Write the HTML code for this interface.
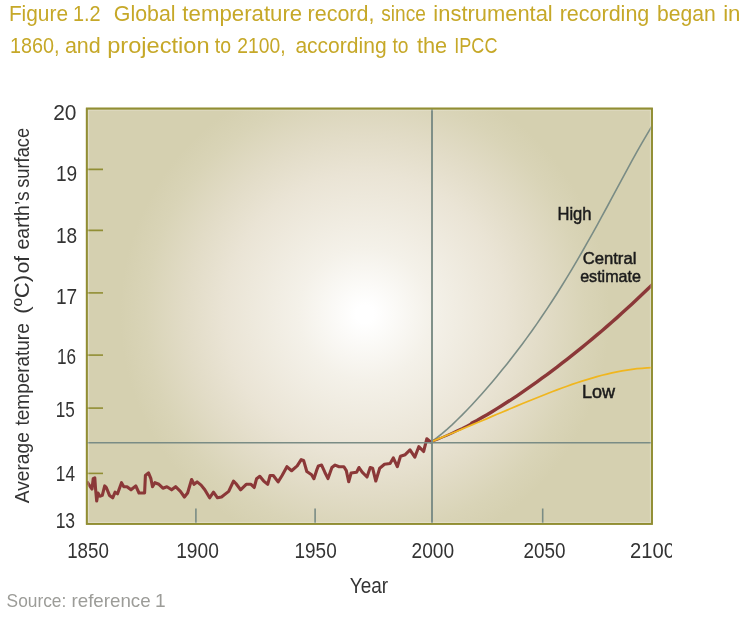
<!DOCTYPE html>
<html><head><meta charset="utf-8"><title>Figure 1.2</title>
<style>
html,body{margin:0;padding:0;background:#fff;}
body{width:753px;height:620px;overflow:hidden;}
svg{display:block;will-change:transform;}
text{font-family:"Liberation Sans",sans-serif;}
</style></head><body>
<svg width="753" height="620" viewBox="0 0 753 620">
<defs>
<radialGradient id="bg" gradientUnits="userSpaceOnUse" cx="365" cy="314" r="255">
<stop offset="0" stop-color="#ffffff"/>
<stop offset="0.035" stop-color="#ffffff"/>
<stop offset="0.26" stop-color="rgb(244,241,233)"/>
<stop offset="0.55" stop-color="rgb(234,228,213)"/>
<stop offset="0.70" stop-color="rgb(226,220,199)"/>
<stop offset="0.86" stop-color="rgb(217,212,183)"/>
<stop offset="0.96" stop-color="rgb(213,208,176)"/>
<stop offset="1" stop-color="rgb(213,208,176)"/>
</radialGradient>
<clipPath id="plot"><rect x="87" y="108.5" width="565" height="415.5"/></clipPath>
<clipPath id="xl"><rect x="0" y="530" width="672" height="40"/></clipPath>
</defs>
<rect x="0" y="0" width="753" height="620" fill="#ffffff"/>

<text x="8.88" y="21.3" font-size="21.5" fill="#c6a828" textLength="59.15" lengthAdjust="spacingAndGlyphs">Figure</text>
<text x="72.97" y="21.3" font-size="21.5" fill="#c6a828" textLength="27.68" lengthAdjust="spacingAndGlyphs">1.2</text>
<text x="113.77" y="21.3" font-size="21.5" fill="#c6a828" textLength="61.75" lengthAdjust="spacingAndGlyphs">Global</text>
<text x="182.39" y="21.3" font-size="21.5" fill="#c6a828" textLength="119.82" lengthAdjust="spacingAndGlyphs">temperature</text>
<text x="307.56" y="21.3" font-size="21.5" fill="#c6a828" textLength="66.88" lengthAdjust="spacingAndGlyphs">record,</text>
<text x="381.27" y="21.3" font-size="21.5" fill="#c6a828" textLength="44.51" lengthAdjust="spacingAndGlyphs">since</text>
<text x="433.38" y="21.3" font-size="21.5" fill="#c6a828" textLength="119.34" lengthAdjust="spacingAndGlyphs">instrumental</text>
<text x="559.65" y="21.3" font-size="21.5" fill="#c6a828" textLength="89.69" lengthAdjust="spacingAndGlyphs">recording</text>
<text x="657.07" y="21.3" font-size="21.5" fill="#c6a828" textLength="58.73" lengthAdjust="spacingAndGlyphs">began</text>
<text x="723.15" y="21.3" font-size="21.5" fill="#c6a828" textLength="17.34" lengthAdjust="spacingAndGlyphs">in</text>
<text x="9.92" y="52.6" font-size="21.5" fill="#c6a828" textLength="49.48" lengthAdjust="spacingAndGlyphs">1860,</text>
<text x="64.89" y="52.6" font-size="21.5" fill="#c6a828" textLength="35.84" lengthAdjust="spacingAndGlyphs">and</text>
<text x="107.18" y="52.6" font-size="21.5" fill="#c6a828" textLength="102.46" lengthAdjust="spacingAndGlyphs">projection</text>
<text x="214.83" y="52.6" font-size="21.5" fill="#c6a828" textLength="16.25" lengthAdjust="spacingAndGlyphs">to</text>
<text x="237.37" y="52.6" font-size="21.5" fill="#c6a828" textLength="48.17" lengthAdjust="spacingAndGlyphs">2100,</text>
<text x="295.40" y="52.6" font-size="21.5" fill="#c6a828" textLength="91.21" lengthAdjust="spacingAndGlyphs">according</text>
<text x="392.51" y="52.6" font-size="21.5" fill="#c6a828" textLength="16.02" lengthAdjust="spacingAndGlyphs">to</text>
<text x="416.91" y="52.6" font-size="21.5" fill="#c6a828" textLength="30.21" lengthAdjust="spacingAndGlyphs">the</text>
<text x="454.24" y="52.6" font-size="21.5" fill="#c6a828" textLength="43.23" lengthAdjust="spacingAndGlyphs">IPCC</text>
<rect x="86.75" y="108.55" width="565.25" height="415.35" fill="url(#bg)" stroke="#918e34" stroke-width="1.7"/>
<g clip-path="url(#plot)">
<line x1="195.9" y1="508.5" x2="195.9" y2="524" stroke="#7a8c85" stroke-width="1.6"/>
<line x1="315.1" y1="508.5" x2="315.1" y2="524" stroke="#7a8c85" stroke-width="1.6"/>
<line x1="542.7" y1="508.5" x2="542.7" y2="524" stroke="#7a8c85" stroke-width="1.6"/>
<line x1="87" y1="169.4" x2="103" y2="169.4" stroke="#918e34" stroke-width="1.6"/>
<line x1="87" y1="230.4" x2="103" y2="230.4" stroke="#918e34" stroke-width="1.6"/>
<line x1="87" y1="292.9" x2="103" y2="292.9" stroke="#918e34" stroke-width="1.6"/>
<line x1="87" y1="355.1" x2="103" y2="355.1" stroke="#918e34" stroke-width="1.6"/>
<line x1="87" y1="408.1" x2="103" y2="408.1" stroke="#918e34" stroke-width="1.6"/>
<line x1="87" y1="473.4" x2="103" y2="473.4" stroke="#918e34" stroke-width="1.6"/>
<polyline points="432.0,441.5 437.0,437.7 442.0,433.6 447.0,429.3 452.0,424.8 457.0,420.0 462.0,415.1 467.0,410.0 472.0,404.7 477.0,399.3 482.0,393.7 487.0,388.0 492.0,382.2 497.0,376.2 502.0,370.1 507.0,363.9 512.0,357.6 517.0,351.1 522.0,344.4 527.0,337.6 532.0,330.7 537.0,323.6 542.0,316.3 547.0,308.9 552.0,301.2 557.0,293.5 562.0,285.5 567.0,277.4 572.0,269.1 577.0,260.6 582.0,252.0 587.0,243.2 592.0,234.3 597.0,225.3 602.0,216.2 607.0,207.0 612.0,197.7 617.0,188.4 622.0,179.1 627.0,169.9 632.0,160.7 637.0,151.7 642.0,142.9 647.0,134.3 652.0,126.0" fill="none" stroke="#7a8c85" stroke-width="1.6" stroke-linejoin="round"/>
<polyline points="432.0,441.5 437.0,439.6 442.0,437.5 447.0,435.4 452.0,433.1 457.0,430.7 462.0,428.3 467.0,425.7 472.0,423.1" fill="none" stroke="#8b3838" stroke-width="2.4" stroke-linejoin="round"/>
<polyline points="472.0,423.1 477.0,420.4 482.0,417.5 487.0,414.7 492.0,411.7 497.0,408.6 502.0,405.5 507.0,402.3 512.0,399.1 517.0,395.8 522.0,392.4 527.0,388.9 532.0,385.4 537.0,381.9 542.0,378.2 547.0,374.6 552.0,370.8 557.0,367.1 562.0,363.2 567.0,359.3 572.0,355.4 577.0,351.4 582.0,347.4 587.0,343.3 592.0,339.1 597.0,334.9 602.0,330.7 607.0,326.4 612.0,322.0 617.0,317.6 622.0,313.1 627.0,308.6 632.0,304.0 637.0,299.3 642.0,294.6 647.0,289.8 652.0,284.9" fill="none" stroke="#8b3838" stroke-width="3.4" stroke-linejoin="round" stroke-linecap="round"/>
<polyline points="432.0,441.5 437.0,439.4 442.0,437.4 447.0,435.3 452.0,433.3 457.0,431.2 462.0,429.1 467.0,427.0 472.0,424.9 477.0,422.8 482.0,420.7 487.0,418.6 492.0,416.4 497.0,414.3 502.0,412.2 507.0,410.1 512.0,408.0 517.0,405.9 522.0,403.8 527.0,401.7 532.0,399.7 537.0,397.7 542.0,395.7 547.0,393.7 552.0,391.8 557.0,389.9 562.0,388.0 567.0,386.2 572.0,384.4 577.0,382.8 582.0,381.1 587.0,379.6 592.0,378.1 597.0,376.6 602.0,375.3 607.0,374.1 612.0,372.9 617.0,371.8 622.0,370.9 627.0,370.1 632.0,369.3 637.0,368.7 642.0,368.3 647.0,367.9 652.0,367.7" fill="none" stroke="#f0b61e" stroke-width="1.7" stroke-linejoin="round"/>
<polyline points="87.0,481.6 89.5,485.5 92.0,489.0 93.2,478.7 94.8,477.9 95.5,488.2 96.7,501.0 98.0,493.0 99.9,496.2 102.3,495.4 104.7,485.9 106.3,487.5 109.5,495.4 112.7,497.8 115.1,492.2 117.5,493.8 121.5,482.7 123.8,486.7 127.0,486.7 131.0,489.8 135.8,485.9 139.0,493.0 144.6,493.0 145.4,475.5 148.5,472.8 150.9,478.7 152.5,486.7 154.9,482.7 158.9,484.3 162.9,488.2 166.9,486.7 171.6,489.8 175.6,486.7 180.4,491.4 184.4,497.0 187.6,493.0 191.6,479.5 194.0,484.3 197.1,481.9 201.1,485.1 204.8,489.8 209.6,497.8 213.5,492.2 217.5,497.8 221.5,497.0 228.7,491.4 233.5,481.1 235.9,483.5 240.6,489.8 246.2,484.3 251.0,484.3 254.2,487.5 256.6,478.7 259.8,476.3 263.7,481.1 267.7,484.3 270.1,475.5 273.3,475.5 278.1,481.9 282.1,475.5 286.9,466.7 291.6,470.7 297.2,465.9 301.2,459.6 303.6,460.4 306.8,471.5 311.6,474.7 313.9,478.7 317.1,469.1 318.4,465.9 321.6,465.1 324.8,472.2 328.0,478.6 331.9,467.5 335.1,465.1 339.1,466.7 343.9,466.7 346.3,470.6 348.7,481.8 351.1,473.0 356.6,472.2 359.0,467.5 362.2,472.2 367.0,477.0 370.2,467.5 372.6,468.2 375.8,481.0 379.7,468.2 384.5,464.3 390.1,463.5 393.3,457.9 397.3,466.7 400.5,456.3 405.2,454.7 410.0,449.9 414.8,457.1 418.8,446.7 423.6,451.5 426.8,438.8 430.7,442.0 432.0,441.5" fill="none" stroke="#8b3838" stroke-width="3.1" stroke-linejoin="round"/>
<line x1="432" y1="108" x2="432" y2="524" stroke="#7a8c85" stroke-width="1.9"/>
<line x1="87" y1="442.7" x2="652" y2="442.7" stroke="#7a8c85" stroke-width="1.6"/>
<rect x="88.6" y="110.1" width="561.8" height="412.3" fill="none" stroke="#ffffff" stroke-opacity="0.28" stroke-width="1"/>
</g>
<rect x="86.75" y="108.55" width="565.25" height="415.35" fill="none" stroke="#918e34" stroke-width="1.7"/>
<text x="53.16" y="120.2" font-size="21.5" fill="#333333" textLength="23.29" lengthAdjust="spacingAndGlyphs">20</text>
<text x="56.01" y="181.0" font-size="21.5" fill="#333333" textLength="21.24" lengthAdjust="spacingAndGlyphs">19</text>
<text x="56.01" y="242.8" font-size="21.5" fill="#333333" textLength="21.24" lengthAdjust="spacingAndGlyphs">18</text>
<text x="56.01" y="304.0" font-size="21.5" fill="#333333" textLength="21.24" lengthAdjust="spacingAndGlyphs">17</text>
<text x="56.93" y="363.9" font-size="21.5" fill="#333333" textLength="19.08" lengthAdjust="spacingAndGlyphs">16</text>
<text x="55.81" y="416.6" font-size="21.5" fill="#333333" textLength="19.07" lengthAdjust="spacingAndGlyphs">15</text>
<text x="55.86" y="480.7" font-size="21.5" fill="#333333" textLength="19.16" lengthAdjust="spacingAndGlyphs">14</text>
<text x="55.64" y="527.7" font-size="21.5" fill="#333333" textLength="19.48" lengthAdjust="spacingAndGlyphs">13</text>
<g clip-path="url(#xl)">
<text x="67.15" y="557.7" font-size="21.5" fill="#333333" textLength="41.67" lengthAdjust="spacingAndGlyphs">1850</text>
<text x="176.19" y="557.7" font-size="21.5" fill="#333333" textLength="42.67" lengthAdjust="spacingAndGlyphs">1900</text>
<text x="294.54" y="557.7" font-size="21.5" fill="#333333" textLength="42.15" lengthAdjust="spacingAndGlyphs">1950</text>
<text x="411.55" y="557.7" font-size="21.5" fill="#333333" textLength="42.58" lengthAdjust="spacingAndGlyphs">2000</text>
<text x="523.57" y="557.7" font-size="21.5" fill="#333333" textLength="42.07" lengthAdjust="spacingAndGlyphs">2050</text>
<text x="629.90" y="557.7" font-size="21.5" fill="#333333" textLength="45.00" lengthAdjust="spacingAndGlyphs">2100</text>
</g>
<text x="349.77" y="593.0" font-size="22" fill="#333333" textLength="38.28" lengthAdjust="spacingAndGlyphs">Year</text>
<text x="6.57" y="606.8" font-size="18.5" fill="#9c9c98" textLength="59.77" lengthAdjust="spacingAndGlyphs">Source:</text>
<text x="71.47" y="606.8" font-size="18.5" fill="#9c9c98" textLength="79.17" lengthAdjust="spacingAndGlyphs">reference</text>
<text x="155.02" y="606.8" font-size="18.5" fill="#9c9c98" textLength="10.64" lengthAdjust="spacingAndGlyphs">1</text>
<text x="557.45" y="220.0" font-size="18" fill="#1c1c1c" stroke="#1c1c1c" stroke-width="0.5" textLength="34.08" lengthAdjust="spacingAndGlyphs">High</text>
<text x="582.67" y="263.5" font-size="17" fill="#1c1c1c" stroke="#1c1c1c" stroke-width="0.5" textLength="53.75" lengthAdjust="spacingAndGlyphs">Central</text>
<text x="580.20" y="282.4" font-size="17" fill="#1c1c1c" stroke="#1c1c1c" stroke-width="0.5" textLength="60.72" lengthAdjust="spacingAndGlyphs">estimate</text>
<text x="581.93" y="398.4" font-size="17.5" fill="#1c1c1c" stroke="#1c1c1c" stroke-width="0.5" textLength="33.05" lengthAdjust="spacingAndGlyphs">Low</text>
<g transform="translate(29.4,503.2) rotate(-90)">
<text x="-0.02" y="0" font-size="20" fill="#333333" textLength="71.01" lengthAdjust="spacingAndGlyphs">Average</text>
<text x="77.78" y="0" font-size="20" fill="#333333" textLength="102.14" lengthAdjust="spacingAndGlyphs">temperature</text>
<text x="189.43" y="0" font-size="20" fill="#333333" textLength="39.00" lengthAdjust="spacingAndGlyphs">(ºC)</text>
<text x="230.03" y="0" font-size="20" fill="#333333" textLength="17.25" lengthAdjust="spacingAndGlyphs">of</text>
<text x="253.68" y="0" font-size="20" fill="#333333" textLength="58.23" lengthAdjust="spacingAndGlyphs">earth’s</text>
<text x="315.41" y="0" font-size="20" fill="#333333" textLength="59.90" lengthAdjust="spacingAndGlyphs">surface</text>
</g>
</svg></body></html>
